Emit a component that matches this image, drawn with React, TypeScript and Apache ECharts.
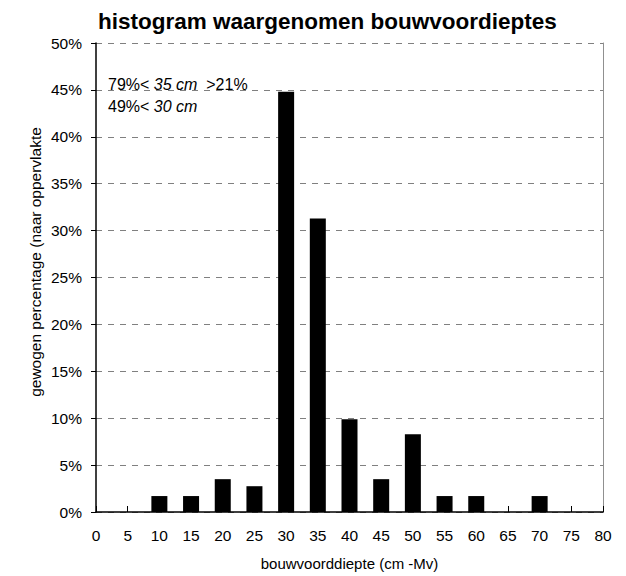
import React, { useEffect, useRef } from "react";
import * as echarts from "echarts";

const depths = [10, 15, 20, 25, 30, 35, 40, 45, 50, 55, 60, 70];
const percentages = [1.7, 1.7, 3.5, 2.75, 44.8, 31.3, 9.9, 3.5, 8.3, 1.7, 1.7, 1.7];
const titleText = "histogram waargenomen bouwvoordieptes";
const xAxisName = "bouwvoorddiepte (cm -Mv)";
const yAxisName = "gewogen percentage (naar oppervlakte";

const FONT = "Liberation Sans, Arial, sans-serif";

export default function App() {
  const ref = useRef<HTMLDivElement>(null);
  useEffect(() => {
    if (!ref.current) return;
    const chart = echarts.init(ref.current, null, { renderer: "svg" });
    chart.setOption({
      animation: false,
      backgroundColor: "#ffffff",
      title: {
        text: titleText,
        left: 93,
        top: 5,
        textStyle: { fontFamily: FONT, fontSize: 22.5, fontWeight: "bold", color: "#000" },
      },
      grid: { left: 96, right: 23, top: 43, bottom: 64, containLabel: false, show: false },
      xAxis: {
        type: "value",
        min: 0,
        max: 80,
        interval: 5,
        name: xAxisName,
        nameLocation: "middle",
        nameGap: 44,
        nameTextStyle: { fontFamily: FONT, fontSize: 15, color: "#000" },
        axisLine: { show: true, lineStyle: { color: "#000", width: 1.5 } },
        axisTick: { show: true, inside: true, length: 6, lineStyle: { color: "#000" } },
        axisLabel: { fontFamily: FONT, fontSize: 15.5, color: "#000", margin: 15 },
        splitLine: { show: false },
      },
      yAxis: [
        {
          type: "value",
          min: 0,
          max: 50,
          interval: 5,
          axisLine: { show: true, lineStyle: { color: "#000", width: 1.5 } },
          axisTick: { show: true, inside: false, length: 5, lineStyle: { color: "#000" } },
          axisLabel: { fontFamily: FONT, fontSize: 15.5, color: "#000", margin: 14, formatter: "{value}%" },
          splitLine: { show: true, lineStyle: { color: "#808080", type: [6, 6], width: 1 } },
        },
        {
          type: "value",
          min: 0,
          max: 50,
          interval: 5,
          position: "right",
          axisLine: { show: true, onZero: false, lineStyle: { color: "#909090", width: 1 } },
          axisTick: { show: false },
          axisLabel: { show: false },
          splitLine: { show: false },
        },
      ],
      graphic: [
        {
          type: "text",
          x: 35,
          y: 262,
          rotation: Math.PI / 2,
          style: {
            text: yAxisName,
            fontFamily: FONT,
            fontSize: 15.5,
            fill: "#000",
            align: "center",
            verticalAlign: "middle",
          },
        },
        {
          type: "text",
          left: 108,
          top: 73,
          style: {
            text: "{n|79%< }{i|35 cm}{n|  >21%}\n{n|49%< }{i|30 cm}",
            lineHeight: 22,
            rich: {
              n: { fontFamily: FONT, fontSize: 16, fill: "#000", lineHeight: 22 },
              i: { fontFamily: FONT, fontSize: 16, fontStyle: "italic", fill: "#000", lineHeight: 22 },
            },
          },
        },
      ],
      series: [
        {
          type: "bar",
          yAxisIndex: 0,
          barWidth: 16,
          itemStyle: { color: "#000" },
          data: depths.map((d, i) => [d, percentages[i]]),
        },
      ],
    });
    return () => chart.dispose();
  }, []);
  return (
    <div
      ref={ref}
      style={{ position: "absolute", left: 0, top: 0, width: 626, height: 576 }}
    />
  );
}
